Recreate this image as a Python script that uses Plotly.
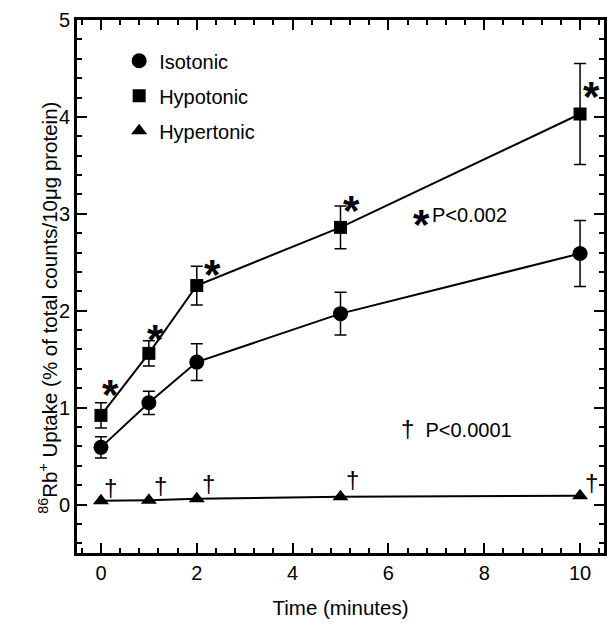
import plotly.graph_objects as go

time = [0, 1, 2, 5, 10]
iso = [0.59, 1.05, 1.47, 1.97, 2.59]
iso_err = [0.11, 0.12, 0.19, 0.22, 0.34]
hypo = [0.92, 1.56, 2.26, 2.86, 4.03]
hypo_err = [0.13, 0.13, 0.20, 0.22, 0.52]
hyper = [0.04, 0.045, 0.06, 0.08, 0.09]

star_dx = [10, 7, 16, 11, 11]
star_dy = [21, 14, 11, 17, 18]
dag_dx = [10, 12, 12, 12, 11]
dag_dy = [13, 15, 15, 17, 13]

font = "Liberation Sans, Arial, sans-serif"
fig = go.Figure()

series = [
    ("Isotonic", iso, iso_err, "circle", 15),
    ("Hypotonic", hypo, hypo_err, "square", 13),
    ("Hypertonic", hyper, None, "triangle-up", 14),
]
for i, (name, ys, err, sym, sz) in enumerate(series):
    fig.add_trace(go.Scatter(x=time, y=ys, mode="lines", line=dict(color="black", width=2),
                             showlegend=False, hoverinfo="skip"))
    fig.add_trace(go.Scatter(
        x=time, y=ys, mode="markers", name=name, legendgroup=name,
        marker=dict(symbol=sym, size=sz, color="black"),
        error_y=dict(type="data", array=err, visible=err is not None,
                     color="black", thickness=1.5, width=6)))

for xv, yv, dx, dy in zip(time, hypo, star_dx, star_dy):
    fig.add_annotation(x=xv, y=yv, text="<b>*</b>", showarrow=False, xshift=dx, yshift=dy,
                       font=dict(family=font, size=42, color="black"))
for xv, yv, dx, dy in zip(time, hyper, dag_dx, dag_dy):
    fig.add_annotation(x=xv, y=yv, text="†", showarrow=False, xshift=dx, yshift=dy,
                       font=dict(family=font, size=24, color="black"))

fig.add_annotation(x=6.48, y=2.99, xanchor="left",
                   text="<b><span style='font-size:42px'>*</span></b>",
                   showarrow=False, yshift=-10, font=dict(family=font, size=20, color="black"))
fig.add_annotation(x=6.86, y=2.99, xanchor="left", text="P<0.002",
                   showarrow=False, font=dict(family=font, size=20, color="black"))
fig.add_annotation(x=6.22, y=0.78, xanchor="left", text="<span style='font-size:24px'>†</span>  P<0.0001",
                   showarrow=False, font=dict(family=font, size=20, color="black"))

fig.add_annotation(xref="paper", yref="paper", x=0, y=0.46, xshift=-44, textangle=-90,
                   text="<sup>86</sup>Rb<sup>+</sup> Uptake (% of total counts/10μg protein)",
                   showarrow=False, font=dict(family=font, size=20.5, color="black"))

axis_common = dict(showline=True, linecolor="black", linewidth=3, mirror="ticks",
                   ticks="inside", ticklen=10, tickwidth=2, tickcolor="black",
                   showgrid=False, zeroline=False,
                   tickfont=dict(family=font, size=20, color="black"))
fig.update_xaxes(range=[-0.5, 10.5], tickvals=[0, 2, 4, 6, 8, 10],
                 minor=dict(dtick=0.4, tick0=0, ticks="inside", ticklen=5, tickwidth=1.5, tickcolor="black"),
                 title=dict(text="Time (minutes)", font=dict(family=font, size=20.5, color="black"), standoff=18),
                 **axis_common)
fig.update_yaxes(range=[-0.5, 5], tickvals=[0, 1, 2, 3, 4, 5],
                 minor=dict(dtick=0.2, tick0=0, ticks="inside", ticklen=5, tickwidth=1.5, tickcolor="black"),
                 **axis_common)

fig.update_layout(
    width=609, height=626, paper_bgcolor="white", plot_bgcolor="white",
    margin=dict(l=77, r=2, t=20, b=73),
    legend=dict(x=0.08, y=0.96, xanchor="left", yanchor="top", bgcolor="rgba(0,0,0,0)",
                font=dict(family=font, size=20, color="black"), tracegroupgap=6),
    showlegend=True,
)
fig.write_html("out.html")
